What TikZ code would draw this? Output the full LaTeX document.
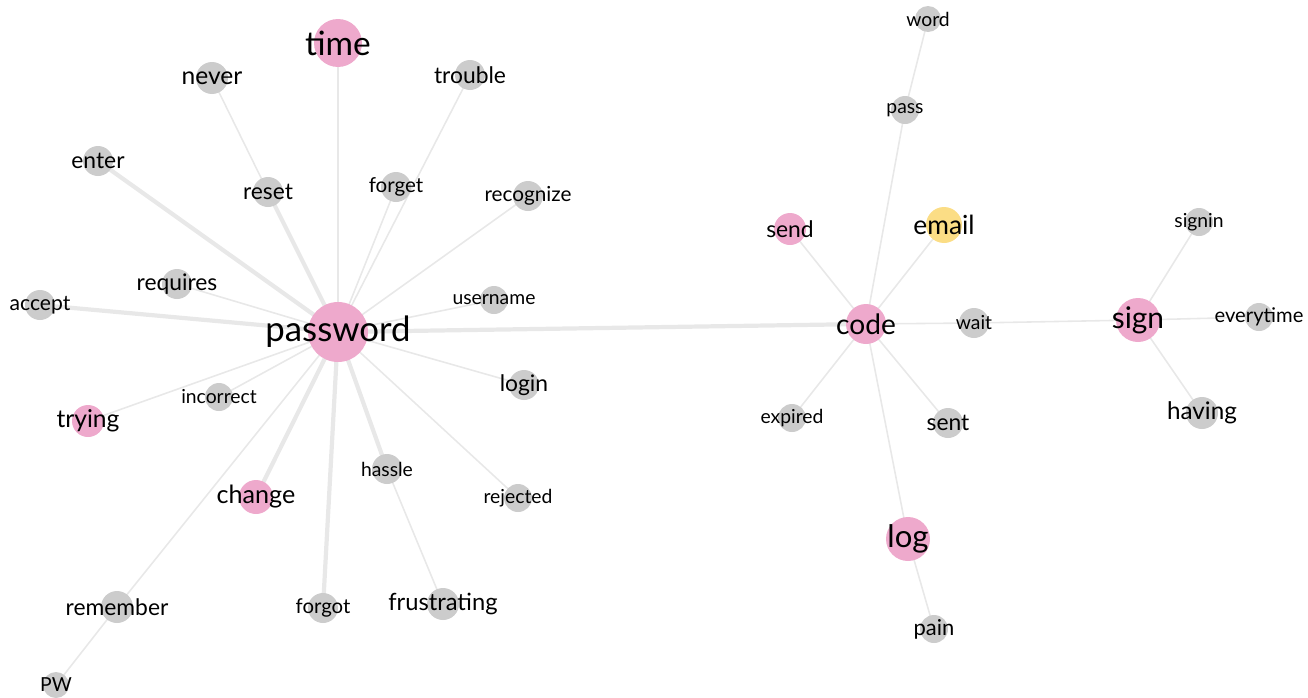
\documentclass[tikz,border=0pt]{standalone}
\usepackage{fontspec}
\setmainfont{Lato}
\usetikzlibrary{backgrounds}
\definecolor{pinknode}{HTML}{EEA9CC}
\definecolor{graynode}{HTML}{CCCCCC}
\definecolor{yellownode}{HTML}{FBDD85}
\definecolor{edgegray}{HTML}{E8E8E8}
\tikzset{
  word/.style={circle, inner sep=0pt, minimum size=#1},
  gw/.style={word=#1, fill=graynode},
  pw/.style={word=#1, fill=pinknode},
  yw/.style={word=#1, fill=yellownode},
  fs/.style={font=\fontsize{#1}{#1}\selectfont},
  big/.style={fs=17},
  mid/.style={fs=13},
  small/.style={fs=11},
  link/.style={draw=edgegray, line width=0.9pt},
  heavy/.style={draw=edgegray, line width=2.4pt}
}
\begin{document}
\begin{tikzpicture}[x=0.02cm, y=-0.02cm]
    \useasboundingbox (0,0) rectangle (1308,697);

    % Draw the password cluster
    \node[pw=1.2cm, label={[fs=19.8]center:password}] (password) at (338,332) {};
    \node[pw=0.96cm, label={[fs=19]center:time}] (time) at (338,43) {};
    \node[gw=0.64cm, label={[fs=14]center:never}] (never) at (212,78) {};
    \node[gw=0.6cm, label={[mid]center:trouble}] (trouble) at (470,75) {};
    \node[gw=0.6cm, label={[mid]center:enter}] (enter) at (98,161) {};
    \node[gw=0.6cm, label={[mid]center:reset}] (reset) at (268,192) {};
    \node[gw=0.6cm, label={[fs=11.7]center:forget}] (forget) at (396,187) {};
    \node[gw=0.6cm, label={[fs=11.8]center:recognize}] (recognize) at (528,196) {};
    \node[gw=0.6cm, label={[mid]center:requires}] (requires) at (177,284) {};
    \node[gw=0.6cm, label={[fs=12]center:accept}] (accept) at (40,305) {};
    \node[gw=0.56cm, label={[small]center:username}] (username) at (494,300) {};
    \node[gw=0.6cm, label={[mid]center:login}] (login) at (524,385) {};
    \node[gw=0.56cm, label={[small]center:incorrect}] (incorrect) at (219,397) {};
    \node[pw=0.64cm, label={[fs=14]center:trying}] (trying) at (88,421) {};
    \node[pw=0.68cm, label={[fs=14.3]center:change}] (change) at (256,497) {};
    \node[gw=0.6cm, label={[small]center:hassle}] (hassle) at (387,469) {};
    \node[gw=0.56cm, label={[small]center:rejected}] (rejected) at (518,498) {};
    \node[gw=0.64cm, label={[mid]center:remember}] (remember) at (117,607) {};
    \node[gw=0.6cm, label={[fs=11.6]center:forgot}] (forgot) at (323,608) {};
    \node[gw=0.64cm, label={[fs=13.5]center:frustrating}] (frustrating) at (443,604) {};
    \node[gw=0.52cm, label={[small]center:PW}] (PW) at (56,685) {};

    % Draw the code cluster
    \node[pw=0.8cm, label={[fs=16]center:code}] (code) at (866,324) {};
    \node[gw=0.52cm, label={[small]center:word}] (wordn) at (928,19) {};
    \node[gw=0.56cm, label={[small]center:pass}] (pass) at (905,110) {};
    \node[pw=0.64cm, label={[mid]center:send}] (send) at (790,229) {};
    \node[yw=0.72cm, label={[fs=15]center:email}] (email) at (944,225) {};
    \node[gw=0.6cm, label={[small]center:wait}] (wait) at (974,323) {};
    \node[gw=0.56cm, label={[small]center:expired}] (expired) at (792,418) {};
    \node[gw=0.6cm, label={[mid]center:sent}] (sent) at (948,423) {};
    \node[pw=0.88cm, label={[fs=17.7]center:log}] (log) at (908,539) {};
    \node[gw=0.56cm, label={[fs=12.5]center:pain}] (pain) at (934,629) {};

    % Draw the sign cluster
    \node[pw=0.88cm, label={[big]center:sign}] (sign) at (1138,320) {};
    \node[gw=0.56cm, label={[small]center:signin}] (signin) at (1199,222) {};
    \node[gw=0.56cm, label={[fs=11.5]center:everytime}] (everytime) at (1259,317) {};
    \node[gw=0.64cm, label={[fs=13.8]center:having}] (having) at (1202,413) {};

    % Draw the edges behind the words
    \begin{scope}[on background layer]
        \foreach \a in {time,trouble,forget,recognize,requires,username,login,incorrect,trying,remember,rejected}
            \draw[link] (password.center) -- (\a.center);
        \foreach \a in {accept,enter,reset,change,hassle,forgot,code}
            \draw[heavy] (password.center) -- (\a.center);
        \draw[link] (never.center) -- (reset.center);
        \draw[link] (hassle.center) -- (frustrating.center);
        \draw[link] (remember.center) -- (PW.center);
        \foreach \a in {send,email,pass,wait,expired,sent,log}
            \draw[link] (code.center) -- (\a.center);
        \draw[link] (pass.center) -- (wordn.center);
        \draw[link] (log.center) -- (pain.center);
        \draw[link] (wait.center) -- (sign.center);
        \foreach \a in {signin,everytime,having}
            \draw[link] (sign.center) -- (\a.center);
    \end{scope}
\end{tikzpicture}
\end{document}
